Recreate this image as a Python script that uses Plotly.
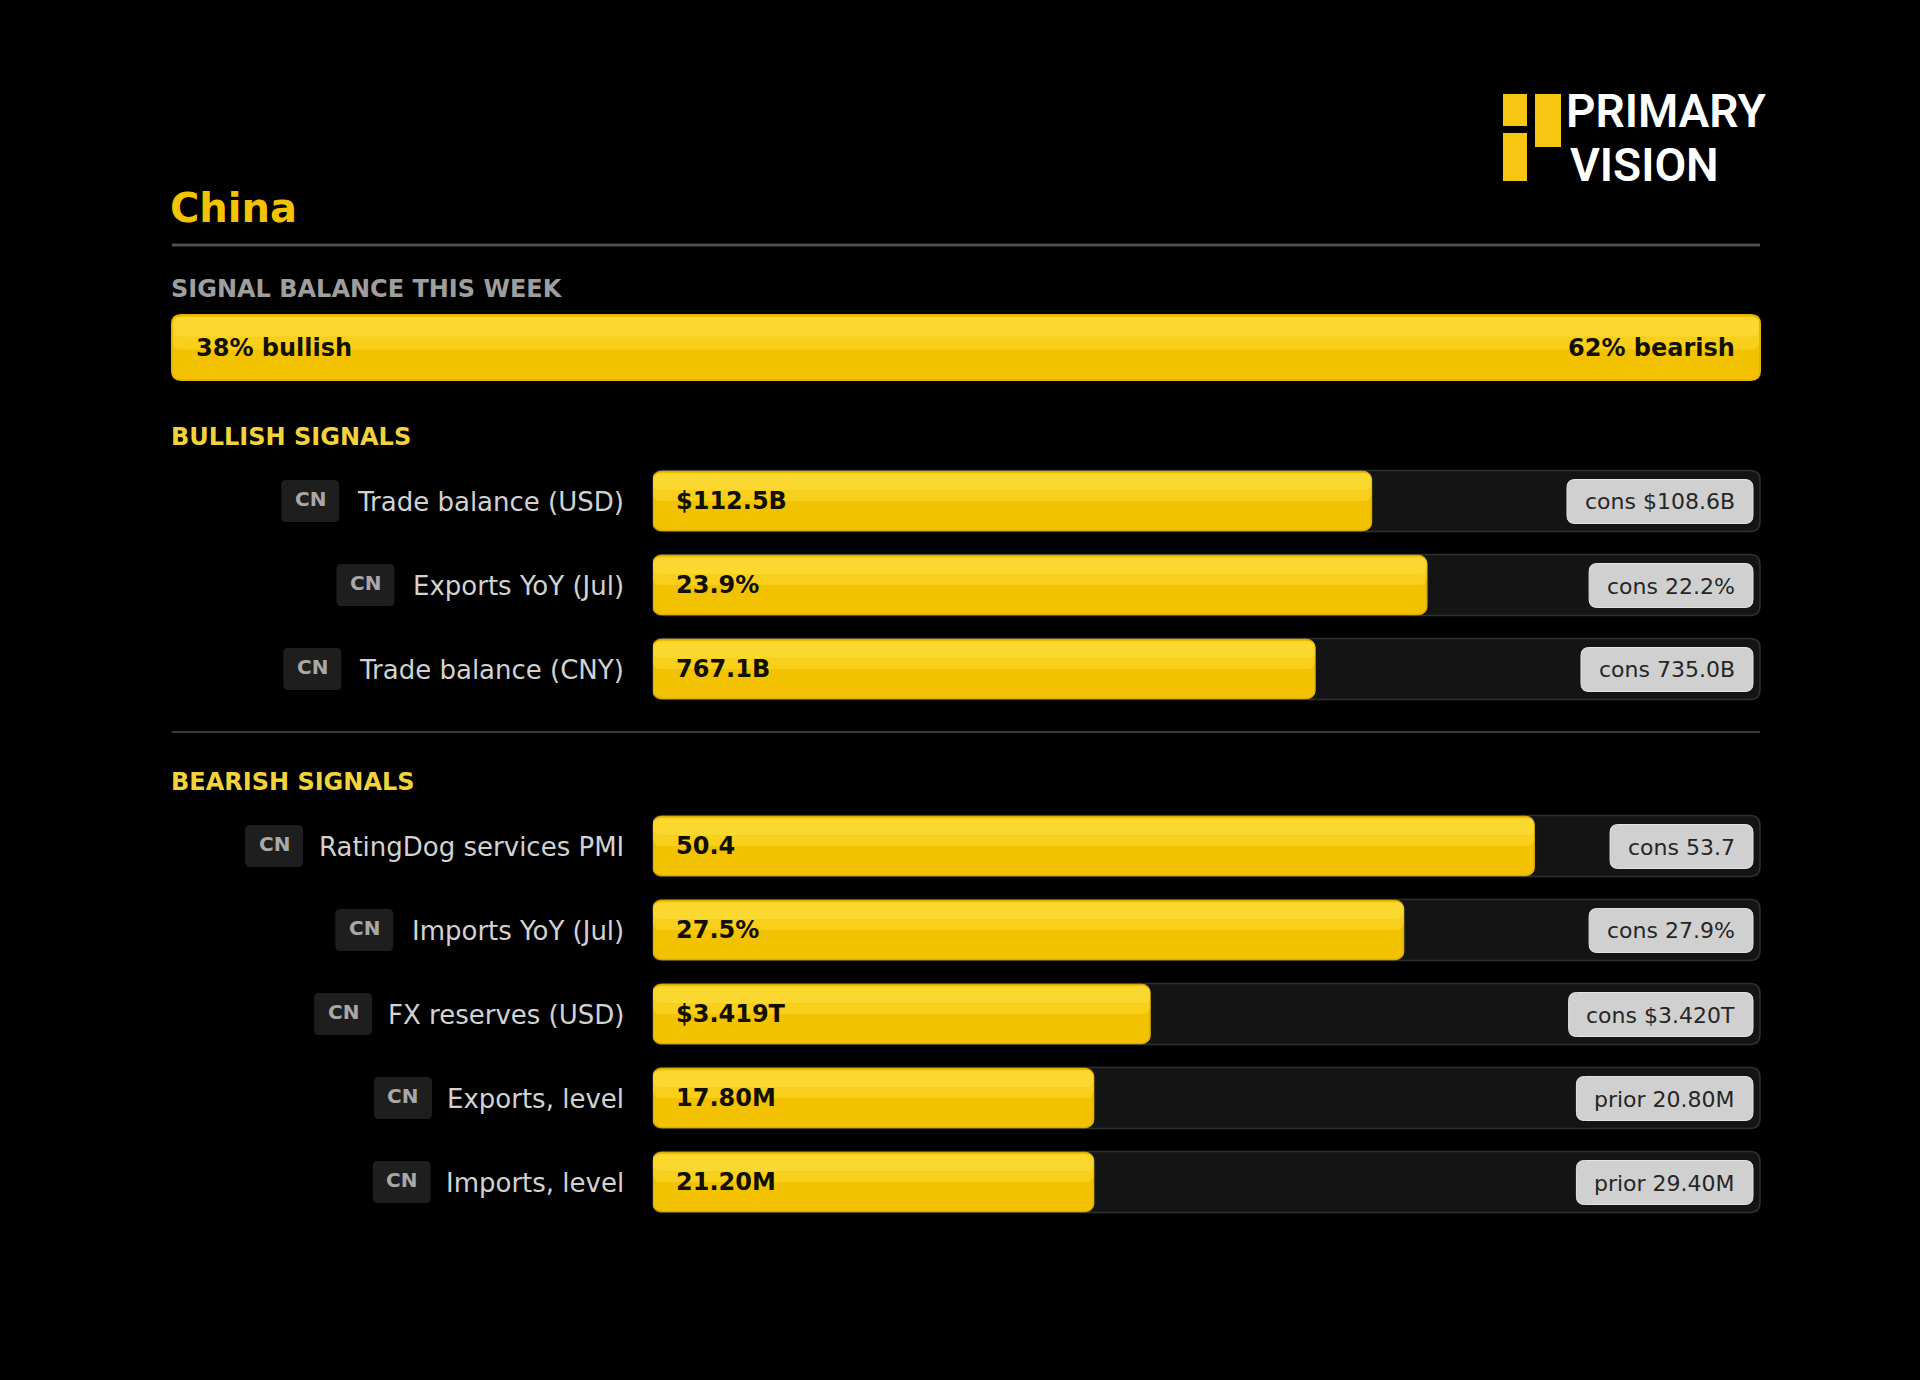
import plotly.graph_objects as go

W, H = 1920, 1380

# ---- data ----
title = "China"
country = "CN"
bull_share = 38
bear_share = 62

bull_labels = ["Trade balance (USD)", "Exports YoY (Jul)", "Trade balance (CNY)"]
bull_values = ["$112.5B", "23.9%", "767.1B"]
bull_fill = [0.649, 0.699, 0.598]
bull_ref = ["cons $108.6B", "cons 22.2%", "cons 735.0B"]

bear_labels = ["RatingDog services PMI", "Imports YoY (Jul)", "FX reserves (USD)",
               "Exports, level", "Imports, level"]
bear_values = ["50.4", "27.5%", "$3.419T", "17.80M", "21.20M"]
bear_fill = [0.796, 0.678, 0.449, 0.398, 0.398]
bear_ref = ["cons 53.7", "cons 27.9%", "cons $3.420T", "prior 20.80M", "prior 29.40M"]

# ---- layout constants (pixels, y from top) ----
LEFT, RIGHT = 172, 1760
TRACK_L = 653
ROW = 84
BULL_TOP = 459
BEAR_TOP = 804
LABEL_R = 626

YELLOW = "#F2C200"
HI_1 = "rgba(255,226,60,0.45)"
HI_2 = "rgba(255,232,90,0.35)"
FONT = "DejaVu Sans"

# DejaVu Sans advance widths (em), used to place badges and pills
DV = {" ": .318, "(": .390, ")": .390, ",": .318, ".": .318, "$": .636, "%": .952,
      "0": .636, "1": .636, "2": .636, "3": .636, "4": .636, "5": .636, "6": .636,
      "7": .636, "8": .636, "9": .636,
      "B": .686, "C": .698, "D": .770, "E": .632, "F": .575, "I": .295, "J": .295,
      "M": .863, "N": .748, "P": .603, "R": .695, "S": .635, "T": .611, "U": .732,
      "X": .685, "Y": .611,
      "a": .613, "b": .635, "c": .550, "d": .635, "e": .615, "g": .635, "i": .278,
      "l": .278, "m": .974, "n": .634, "o": .612, "p": .635, "r": .411, "s": .521,
      "t": .392, "u": .634, "v": .592, "x": .592, "y": .592}


def text_w(s, size):
    return sum(DV.get(c, 0.6) for c in s) * size


def px(x):
    return x / W


def py(y):
    return 1 - y / H


def rrect(x0, y0, x1, y1, r, fill, line="rgba(0,0,0,0)", lw=0, layer="above"):
    p = [(x0 + r, y0), (x1 - r, y0), (x1, y0), (x1, y0 + r), (x1, y1 - r), (x1, y1),
         (x1 - r, y1), (x0 + r, y1), (x0, y1), (x0, y1 - r), (x0, y0 + r), (x0, y0),
         (x0 + r, y0)]
    f = ["%.6f,%.6f" % (px(a), py(b)) for a, b in p]
    path = (f"M{f[0]} L{f[1]} Q{f[2]} {f[3]} L{f[4]} Q{f[5]} {f[6]} L{f[7]} "
            f"Q{f[8]} {f[9]} L{f[10]} Q{f[11]} {f[12]} Z")
    return dict(type="path", path=path, xref="paper", yref="paper", fillcolor=fill,
                line=dict(color=line, width=lw), layer=layer)


def note(text, x, y, size, color, bold=False, xanchor="left", family=FONT, weight=None):
    return dict(text=text, x=px(x), y=py(y), xref="paper", yref="paper", showarrow=False,
                xanchor=xanchor, yanchor="middle",
                font=dict(family=family, size=size, color=color,
                          weight=weight if weight else ("bold" if bold else "normal")))


def hbar(x, base, y, width, color, xa, ya, radius, offset=None, line=None, **kw):
    return go.Bar(x=x, base=base, y=y, orientation="h", width=width, offset=offset,
                  xaxis=xa, yaxis=ya,
                  marker=dict(color=color, cornerradius=radius,
                              line=line if line else dict(width=0)), **kw)


fig = go.Figure()
shapes = []
annotations = []

# ---- header ----
annotations.append(note(title, LEFT - 4, 208, 40, "#F4C300", bold=True))
shapes.append(dict(type="line", xref="paper", yref="paper", x0=px(LEFT), x1=px(RIGHT),
                   y0=py(245), y1=py(245), line=dict(color="#4E4E4E", width=3)))
annotations.append(note("SIGNAL BALANCE THIS WEEK", LEFT - 3, 289, 24, "#9E9E9E", bold=True))

# logo
for x0, y0, x1, y1 in [(1503, 94, 1527, 126), (1503, 133, 1527, 181), (1535, 94, 1561, 147)]:
    shapes.append(dict(type="rect", xref="paper", yref="paper", x0=px(x0), x1=px(x1),
                       y0=py(y0), y1=py(y1), fillcolor="#F7C512", line=dict(width=0)))
annotations.append(note("PRIMARY", 1564, 111, 46, "#FFFFFF", family="Roboto", weight=600))
annotations.append(note("VISION", 1568, 165, 46, "#FFFFFF", family="Roboto", weight=600))

# ---- balance bar ----
total = bull_share + bear_share
seam = dict(color=YELLOW, width=1)
# filler under the join so no background shows through between the two segments
shapes.append(dict(type="rect", xref="x2", yref="paper", x0=bull_share - 0.4,
                   x1=bull_share + 0.4, y0=py(379), y1=py(316), fillcolor=YELLOW,
                   line=dict(width=0), layer="below"))
fig.add_trace(hbar([-bull_share], [bull_share], [0], 1, YELLOW, "x2", "y3", 9,
                   line=seam, hoverinfo="skip"))
fig.add_trace(hbar([bear_share], [bull_share], [0], 1, YELLOW, "x2", "y3", 9,
                   line=seam, hoverinfo="skip"))
fig.add_trace(hbar([total], [0], [0], 0.5, HI_1, "x2", "y3", 8, offset=-0.47,
                   hoverinfo="skip"))
fig.add_trace(hbar([total], [0], [0], 0.3, HI_2, "x2", "y3", 7, offset=-0.47,
                   hoverinfo="skip"))
shapes.append(rrect(LEFT, 315, RIGHT, 380, 9, "rgba(0,0,0,0)", "#E8B400", 2))
annotations.append(dict(text=f"{bull_share}% bullish", x=0, y=0, xref="x2", yref="y3",
                        xanchor="left", yanchor="middle", xshift=22, showarrow=False,
                        font=dict(family=FONT, size=24, color="#141000", weight="bold")))
annotations.append(dict(text=f"{bear_share}% bearish", x=total, y=0, xref="x2", yref="y3",
                        xanchor="right", yanchor="middle", xshift=-23, showarrow=False,
                        font=dict(family=FONT, size=24, color="#141000", weight="bold")))

# ---- signal sections ----
annotations.append(note("BULLISH SIGNALS", LEFT - 3, 437, 24, "#F2D33A", bold=True))
shapes.append(dict(type="line", xref="paper", yref="paper", x0=px(LEFT), x1=px(RIGHT),
                   y0=py(732), y1=py(732), line=dict(color="#3A3A3A", width=2)))
annotations.append(note("BEARISH SIGNALS", LEFT - 3, 782, 24, "#F2D33A", bold=True))

sections = [("y", BULL_TOP, bull_labels, bull_values, bull_fill, bull_ref),
            ("y2", BEAR_TOP, bear_labels, bear_values, bear_fill, bear_ref)]

for yax, top, labels, values, fills, refs in sections:
    rows = list(range(len(labels)))
    neg = [-f for f in fills]
    fig.add_trace(hbar(neg, fills, rows, 0.7, YELLOW, "x", yax, 8,
                       line=dict(color="#DDAE00", width=1.5),
                       hovertext=labels, hoverinfo="text"))
    fig.add_trace(hbar(neg, fills, rows, 0.33, HI_1, "x", yax, 7, offset=-0.33,
                       hoverinfo="skip"))
    fig.add_trace(hbar(neg, fills, rows, 0.2, HI_2, "x", yax, 6, offset=-0.33,
                       hoverinfo="skip"))
    for i in rows:
        yc = top + (i + 0.5) * ROW
        # track
        shapes.append(rrect(TRACK_L, yc - 30.5, RIGHT, yc + 30.5, 10, "#141414",
                            "#303030", 1.5, layer="below"))
        # badge + label
        lw = text_w(labels[i], 26)
        bx1 = LABEL_R - lw - 17
        shapes.append(rrect(bx1 - 58, yc - 21, bx1, yc + 21, 5, "#1E1E1E"))
        annotations.append(note(country, bx1 - 29, yc - 2, 20, "#A8A8A8", bold=True,
                                xanchor="center"))
        annotations.append(note(labels[i], LABEL_R, yc + 1, 26, "#D2D2D2", xanchor="right"))
        # value
        annotations.append(dict(text=values[i], x=0, y=i, xref="x", yref=yax,
                                xanchor="left", yanchor="middle", xshift=21,
                                showarrow=False,
                                font=dict(family=FONT, size=24, color="#111000",
                                          weight="bold")))
        # reference pill
        pw = text_w(refs[i], 22) + 36
        shapes.append(rrect(RIGHT - 7 - pw, yc - 21.5, RIGHT - 7, yc + 22.5, 8, "#D0D0D0",
                            "#E4E4E4", 1))
        annotations.append(note(refs[i], RIGHT - 7 - pw / 2, yc + 1, 22, "#262626",
                                xanchor="center"))

hidden = dict(visible=False, fixedrange=True, showgrid=False, zeroline=False)
n_bull, n_bear = len(bull_labels), len(bear_labels)
fig.update_layout(
    width=W, height=H,
    margin=dict(l=0, r=0, t=0, b=0),
    paper_bgcolor="#000000",
    plot_bgcolor="rgba(0,0,0,0)",
    barmode="overlay",
    showlegend=False,
    xaxis=dict(domain=[px(TRACK_L), px(RIGHT)], range=[0, 1], anchor="y", **hidden),
    yaxis=dict(domain=[py(BULL_TOP + n_bull * ROW), py(BULL_TOP)],
               range=[n_bull - 0.5, -0.5], anchor="x", **hidden),
    yaxis2=dict(domain=[py(BEAR_TOP + n_bear * ROW), py(BEAR_TOP)],
                range=[n_bear - 0.5, -0.5], anchor="x", **hidden),
    xaxis2=dict(domain=[px(LEFT), px(RIGHT)], range=[0, total], anchor="y3", **hidden),
    yaxis3=dict(domain=[py(380), py(315)], range=[0.5, -0.5], anchor="x2", **hidden),
    shapes=shapes,
    annotations=annotations,
)

fig.write_html("out.html", config={"displayModeBar": False},
               post_script="document.body.style.margin='0';")
